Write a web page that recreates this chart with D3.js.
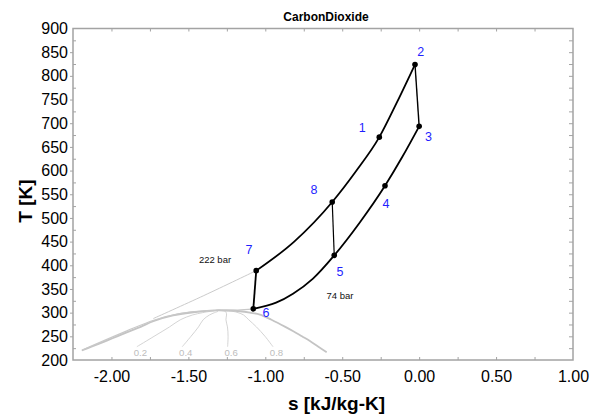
<!DOCTYPE html>
<html>
<head>
<meta charset="utf-8">
<script src="https://cdn.jsdelivr.net/npm/d3@7"></script>
<style>
  html, body { margin: 0; padding: 0; background: #fff; }
  svg { display: block; font-family: "Liberation Sans", Arial, sans-serif; }
</style>
</head>
<body>
<svg id="chart" width="595" height="414"></svg>
<script>
// CO2 recompression cycle on a T-s diagram

// Cycle state points
const stateNames = ["1", "2", "3", "4", "5", "6", "7", "8"];
const stateS = [-0.259, -0.027, 0.000, -0.222, -0.552, -1.078, -1.059, -0.565];
const stateT = [670.6, 824.0, 693.4, 568.0, 421.0, 308.0, 388.7, 533.6];

// High-pressure isobar (222 bar) through 7 - 8 - 1 - 2
const hpS = [-1.059, -0.812, -0.565, -0.412, -0.259, -0.143, -0.027];
const hpT = [388.7, 450.0, 533.6, 598.0, 670.6, 745.0, 824.0];

// Low-pressure isobar (74 bar) through 6 - 5 - 4 - 3
const lpS = [-1.078, -0.93, -0.82, -0.69, -0.552, -0.387, -0.222, -0.111, 0.000];
const lpT = [308.0, 321.0, 340.0, 372.0, 421.0, 490.0, 568.0, 628.0, 693.4];

// Straight process legs (pairs of state names)
const legs = [["2", "3"], ["6", "7"], ["8", "5"]];

// 222 bar isobar continued into the liquid region
const hpLiqS = [-1.728, -1.400, -1.059];
const hpLiqT = [287.5, 336.0, 388.7];

// 74 bar isobar continued across the critical region
const lpLiqS = [-2.19, -1.90, -1.72, -1.55, -1.42, -1.30, -1.18, -1.078];
const lpLiqT = [221.0, 261.5, 284.5, 298.5, 303.5, 305.0, 305.6, 308.0];

// Saturation dome
const domeS = [-2.193, -2.13, -2.03, -1.963, -1.88, -1.81, -1.728, -1.60, -1.468, -1.38, -1.316,
               -1.24, -1.165, -1.10, -1.035, -0.96, -0.87, -0.818, -0.762, -0.71, -0.655, -0.601];
const domeT = [220.0, 228.0, 241.0, 250.0, 261.0, 270.0, 281.8, 294.0, 300.8, 303.8, 305.0,
               304.5, 302.9, 300.0, 296.0, 285.0, 270.0, 260.7, 250.0, 240.0, 228.0, 216.5];

// Constant-quality lines inside the dome
const qualityNames = ["0.2", "0.4", "0.6", "0.8"];
const qualityT = [228, 250, 270, 285, 295, 300, 303, 305];
const qualityS = [
  [-1.835, -1.723, -1.622, -1.552, -1.474, -1.407, -1.354, -1.316],
  [-1.540, -1.483, -1.434, -1.404, -1.363, -1.330, -1.308, -1.316],
  [-1.245, -1.242, -1.246, -1.256, -1.252, -1.254, -1.262, -1.316],
  [-0.950, -1.002, -1.058, -1.108, -1.141, -1.177, -1.216, -1.316]
];

// Pressure annotations
const pressureNames = ["222 bar", "74 bar"];
const pressureS = [-1.327, -0.515];
const pressureT = [411.9, 336.6];

// Axis ticks
const xTicks = [-2.0, -1.5, -1.0, -0.5, 0.0, 0.5, 1.0];
const xMinor = [-2.0, -1.75, -1.5, -1.25, -1.0, -0.75, -0.5, -0.25, 0.0, 0.25, 0.5, 0.75];
const yTicks = [200, 250, 300, 350, 400, 450, 500, 550, 600, 650, 700, 750, 800, 850, 900];
const yMinor = [225, 275, 325, 375, 425, 475, 525, 575, 625, 675, 725, 775, 825, 875];
const yAll = [225, 250, 275, 300, 325, 350, 375, 400, 425, 450, 475, 500, 525, 550, 575, 600,
              625, 650, 675, 700, 725, 750, 775, 800, 825, 850, 875];

// ---------------------------------------------------------------
const L = 73, R = 573, T0 = 28.5, B = 360;
const x = d3.scaleLinear().domain([-2.25, 1.0]).range([L, R]);
const y = d3.scaleLinear().domain([200, 900]).range([B, T0]);

const svg = d3.select("#chart");
const frameColor = "#a3a3a3";
const fmt = d => d.toFixed(2);

// Bottom axis: inward ticks, labels
const gBottom = svg.append("g").attr("transform", `translate(0,${B})`)
  .call(d3.axisBottom(x).tickValues(xMinor).tickSizeInner(-3).tickSizeOuter(0).tickFormat(""));
const gBottomLab = svg.append("g").attr("transform", `translate(0,${B})`)
  .call(d3.axisBottom(x).tickValues(xTicks).tickSize(0).tickPadding(10.5).tickFormat(fmt));

// Top axis: inward ticks
const gTop = svg.append("g").attr("transform", `translate(0,${T0})`)
  .call(d3.axisTop(x).tickValues(xMinor).tickSizeInner(-3).tickSizeOuter(0).tickFormat(""));

// Left axis: outward major ticks with labels, inward minor ticks
const gLeft = svg.append("g").attr("transform", `translate(${L},0)`)
  .call(d3.axisLeft(y).tickValues(yTicks.filter(v => v > 200 && v < 900)).tickSize(3).tickSizeOuter(0).tickFormat(""));
const gLeftLab = svg.append("g").attr("transform", `translate(${L},0)`)
  .call(d3.axisLeft(y).tickValues(yTicks).tickSize(0).tickPadding(5).tickFormat(d3.format("d")));
const gLeftMinor = svg.append("g").attr("transform", `translate(${L},0)`)
  .call(d3.axisLeft(y).tickValues(yMinor).tickSizeInner(-3).tickSizeOuter(0).tickFormat(""));

// Right axis: inward ticks
const gRight = svg.append("g").attr("transform", `translate(${R},0)`)
  .call(d3.axisRight(y).tickValues(yAll).tickSizeInner(-4).tickSizeOuter(0).tickFormat(""));

[gBottom, gBottomLab, gTop, gLeft, gLeftLab, gLeftMinor, gRight].forEach(g => {
  g.select(".domain").remove();
  g.selectAll(".tick line").attr("stroke", frameColor).attr("stroke-width", 1);
  g.selectAll(".tick text").attr("fill", "#000").attr("font-size", 16)
    .attr("font-family", "'Liberation Sans', Arial, sans-serif");
});

// Plot frame
svg.append("rect")
  .attr("x", L).attr("y", T0).attr("width", R - L).attr("height", B - T0)
  .attr("fill", "none").attr("stroke", frameColor).attr("stroke-width", 1.5);

// Title and axis titles
svg.append("text").attr("x", 326).attr("y", 21).attr("text-anchor", "middle")
  .attr("font-size", 12).attr("font-weight", "bold").text("CarbonDioxide");
svg.append("text").attr("x", 336.5).attr("y", 410).attr("text-anchor", "middle")
  .attr("font-size", 19).attr("font-weight", "bold").text("s [kJ/kg-K]");
svg.append("text").attr("transform", "translate(32,201) rotate(-90)").attr("text-anchor", "middle")
  .attr("font-size", 19).attr("font-weight", "bold").text("T [K]");

const zip = (a, b) => a.map((v, i) => [v, b[i]]);
const lineLin = d3.line().x(d => x(d[0])).y(d => y(d[1]));
const lineSmooth = d3.line().x(d => x(d[0])).y(d => y(d[1])).curve(d3.curveMonotoneX);
const lineCR = d3.line().x(d => x(d[0])).y(d => y(d[1])).curve(d3.curveCatmullRom.alpha(0.5));

const plot = svg.append("g");

// Quality lines
qualityS.forEach((qs, i) => {
  const pts = zip(qs, qualityT);
  plot.append("path").attr("d", lineCR(pts)).attr("fill", "none")
    .attr("stroke", "#cfcfcf").attr("stroke-width", 0.9);
  plot.append("text").attr("x", x(qs[0]) + 3.5).attr("y", y(qualityT[0]) + 5.5)
    .attr("text-anchor", "middle").attr("dominant-baseline", "central")
    .attr("font-size", 9.6).attr("fill", "#bdbdbd").text(qualityNames[i]);
});

// Saturation dome
plot.append("path").attr("d", lineCR(zip(domeS, domeT))).attr("fill", "none")
  .attr("stroke", "#c4c4c4").attr("stroke-width", 1.8);

// Isobar continuations in grey
plot.append("path").attr("d", lineCR(zip(lpLiqS, lpLiqT))).attr("fill", "none")
  .attr("stroke", "#c8c8c8").attr("stroke-width", 1.1);
plot.append("path").attr("d", lineCR(zip(hpLiqS, hpLiqT))).attr("fill", "none")
  .attr("stroke", "#cbcbcb").attr("stroke-width", 1);

// Cycle isobars
plot.append("path").attr("d", lineSmooth(zip(hpS, hpT))).attr("fill", "none")
  .attr("stroke", "#000").attr("stroke-width", 1.8);
plot.append("path").attr("d", lineSmooth(zip(lpS, lpT))).attr("fill", "none")
  .attr("stroke", "#000").attr("stroke-width", 1.8);

// Straight legs
const stIdx = n => stateNames.indexOf(n);
const legWidth = { "2": 1.4, "6": 1.8, "8": 1.2 };
legs.forEach(([a, b]) => {
  const pts = [[stateS[stIdx(a)], stateT[stIdx(a)]], [stateS[stIdx(b)], stateT[stIdx(b)]]];
  plot.append("path").attr("d", lineLin(pts)).attr("fill", "none")
    .attr("stroke", "#000").attr("stroke-width", legWidth[a]);
});

// State markers and numbers
const labelOffset = {
  "1": [-17, -9], "2": [5.7, -12.8], "3": [9.3, 10.2], "4": [1, 18],
  "5": [5.7, 16.6], "6": [12.7, 4], "7": [-7.3, -20.3], "8": [-18.3, -11.6]
};
stateNames.forEach((n, i) => {
  plot.append("circle").attr("cx", x(stateS[i])).attr("cy", y(stateT[i])).attr("r", 2.8).attr("fill", "#000");
  plot.append("text").attr("x", x(stateS[i]) + labelOffset[n][0]).attr("y", y(stateT[i]) + labelOffset[n][1])
    .attr("text-anchor", "middle").attr("dominant-baseline", "central")
    .attr("font-size", 12.5).attr("fill", "#1f1fff").text(n);
});

// Pressure annotations
pressureNames.forEach((p, i) => {
  plot.append("text").attr("x", x(pressureS[i])).attr("y", y(pressureT[i]))
    .attr("text-anchor", "middle").attr("dominant-baseline", "central")
    .attr("font-size", 9.5).attr("fill", "#111").text(p);
});
</script>
</body>
</html>
